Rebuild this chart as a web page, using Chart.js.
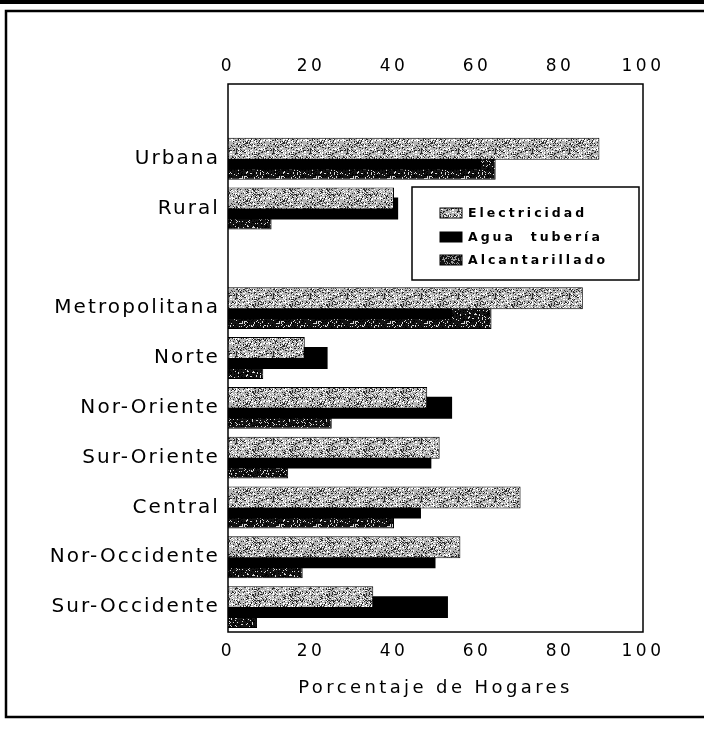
<!DOCTYPE html>
<html lang="es">
<head>
<meta charset="UTF-8">
<title>Porcentaje de Hogares</title>
<script src="https://cdn.jsdelivr.net/npm/chart.js"></script>
<style>
  html, body { margin: 0; padding: 0; background: #fff; }
  #wrap { width: 704px; height: 732px; }
</style>
</head>
<body>
<div id="wrap"><canvas id="chart"></canvas></div>
<script>
// categories (blank entries are the empty rows of the original)
const categories = ['', 'Urbana', 'Rural', '', 'Metropolitana', 'Norte', 'Nor-Oriente',
                    'Sur-Oriente', 'Central', 'Nor-Occidente', 'Sur-Occidente'];
const electricidad   = [null, 89.5, 40, null, 85.5, 18.5, 48, 51, 70.5, 56, 35];
const aguaTuberia    = [null, 61, 41, null, 54, 24, 54, 49, 46.5, 50, 53];
const alcantarillado = [null, 64.5, 10.5, null, 63.5, 8.5, 25, 14.5, 40, 18, 7];
const xTicks = [0, 20, 40, 60, 80, 100];

Chart.defaults.font.family = "'DejaVu Sans', 'Liberation Sans', sans-serif";
Chart.defaults.color = '#000';

// letter spacing per scale, the scanned text is very wide
const spacing = { y: '2.1px', x: '3.5px', x2: '3.5px', title: '3.4px' };

// speckled fill like the scanned halftone
function speckle(base, light, dark, pLight, pDark, seed) {
  const c = document.createElement('canvas');
  c.width = 37; c.height = 29;
  const g = c.getContext('2d');
  g.fillStyle = base;
  g.fillRect(0, 0, c.width, c.height);
  for (let y = 0; y < c.height; y++) {
    for (let x = 0; x < c.width; x++) {
      let h = (x * 374761393 + y * 668265263 + seed * 2246822519) | 0;
      h = Math.imul(h ^ (h >>> 13), 1274126177);
      const r = ((h ^ (h >>> 16)) >>> 0) / 4294967296;
      if (r < pDark) { g.fillStyle = dark; g.fillRect(x, y, 1, 1); }
      else if (r > 1 - pLight) { g.fillStyle = light; g.fillRect(x, y, 1, 1); }
    }
  }
  return g.createPattern(c, 'repeat');
}

const ctx = document.getElementById('chart').getContext('2d');
const elecFill = speckle('#b4b4b4', '#ffffff', '#2a2a2a', 0.2, 0.2, 3);
const alcFill = speckle('#141414', '#d8d8d8', '#000000', 0.12, 0.2, 7);
const alcFill2 = speckle('#141414', '#9a9a9a', '#000000', 0.3, 0.0, 11);

function spaced(fn, sp) {
  return function (...args) {
    const c = this.ctx, prev = c.letterSpacing;
    c.letterSpacing = sp;
    fn.apply(this, args);
    c.letterSpacing = prev;
  };
}

const frame = {
  id: 'frame',
  beforeDraw(chart) {
    Object.values(chart.scales).forEach(s => {
      if (s._spaced) return;
      s.drawLabels = spaced(s.drawLabels, spacing[s.id] || '0px');
      s.drawTitle = spaced(s.drawTitle, spacing.title);
      s._spaced = true;
    });
    const c = chart.ctx;
    c.save();
    c.fillStyle = '#000';
    c.fillRect(0, 0, chart.width, 4);
    c.strokeStyle = '#000';
    c.lineWidth = 2.5;
    c.strokeRect(6, 11, chart.width + 20, 706);
    c.restore();
  },
  afterDatasetsDraw(chart) {
    const a = chart.chartArea, c = chart.ctx;
    c.save();
    c.strokeStyle = '#000';
    c.lineWidth = 1.5;
    c.strokeRect(a.left, a.top, a.right - a.left, a.bottom - a.top);
    c.restore();
  },
  afterDraw(chart) {
    const c = chart.ctx;
    c.save();
    c.fillStyle = '#fff';
    c.fillRect(412, 187, 227, 93);
    c.strokeStyle = '#000';
    c.lineWidth = 1.5;
    c.strokeRect(412, 187, 227, 93);
    c.font = "bold 12.5px 'DejaVu Sans', sans-serif";
    c.letterSpacing = '3px';
    c.textBaseline = 'middle';
    const rows = [213, 237, 260];
    chart.data.datasets.forEach((ds, i) => {
      c.fillStyle = ds.legendFill || ds.backgroundColor;
      c.fillRect(440, rows[i] - 5, 22, 10);
      c.strokeStyle = '#000';
      c.lineWidth = 1;
      c.strokeRect(440, rows[i] - 5, 22, 10);
      c.fillStyle = '#000';
      c.fillText(ds.label, 468, rows[i] + 1);
    });
    c.restore();
  }
};

new Chart(ctx, {
  type: 'bar',
  data: {
    labels: categories,
    datasets: [
      { label: 'Electricidad', data: electricidad, backgroundColor: elecFill,
        borderColor: '#000', borderWidth: 1 },
      { label: 'Agua  tubería', data: aguaTuberia, backgroundColor: '#000',
        borderWidth: 0 },
      { label: 'Alcantarillado', data: alcantarillado, backgroundColor: alcFill,
        legendFill: alcFill2, borderColor: '#000', borderWidth: 1 }
    ]
  },
  options: {
    indexAxis: 'y',
    responsive: true,
    maintainAspectRatio: false,
    animation: false,
    barPercentage: 2.2,
    categoryPercentage: 0.6,
    layout: { padding: { left: 0, right: 61, top: 0, bottom: 0 } },
    plugins: { legend: { display: false }, tooltip: { enabled: false } },
    scales: {
      y: {
        grid: { display: false, drawTicks: false },
        border: { display: false },
        ticks: { autoSkip: false, padding: 8, font: { size: 20 } },
        afterFit(s) { s.width = 228; }
      },
      x: {
        position: 'bottom', min: 0, max: 100,
        grid: { display: false, drawTicks: false },
        border: { display: false },
        ticks: { padding: 9, maxRotation: 0, font: { size: 17 } },
        afterBuildTicks(s) { s.ticks = xTicks.map(v => ({ value: v })); },
        title: { display: true, text: 'Porcentaje de Hogares', font: { size: 18 },
                 padding: { top: 0, bottom: 33 } },
        afterFit(s) { s.height = 100; }
      },
      x2: {
        axis: 'x', position: 'top', min: 0, max: 100,
        grid: { display: false, drawTicks: false },
        border: { display: false },
        ticks: { padding: 7, maxRotation: 0, font: { size: 17 } },
        afterBuildTicks(s) { s.ticks = xTicks.map(v => ({ value: v })); },
        afterFit(s) { s.height = 84; }
      }
    }
  },
  plugins: [frame]
});
</script>
</body>
</html>
